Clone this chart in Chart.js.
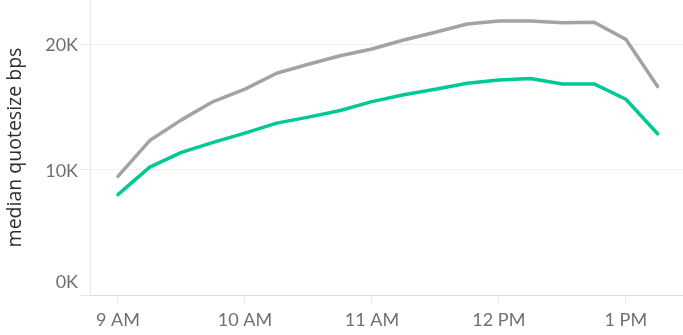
<!DOCTYPE html>
<html>
<head>
<meta charset="utf-8">
<script src="https://cdn.jsdelivr.net/npm/chart.js@4/dist/chart.umd.min.js"></script>
<style>
  html, body { margin: 0; padding: 0; background: #fff; }
  #wrap { width: 683px; height: 335px; position: relative; }
</style>
</head>
<body>
<div id="wrap"><canvas id="c"></canvas></div>
<script>
// Time in decimal hours (9 = 9 AM, 13.25 = 1:15 PM)
const times = [9, 9.25, 9.5, 9.75, 10, 10.25, 10.5, 10.75, 11, 11.25, 11.5, 11.75, 12, 12.25, 12.5, 12.75, 13, 13.25];
const grayValues = [9470, 12330, 13980, 15440, 16430, 17700, 18420, 19100, 19640, 20360, 20970, 21630, 21870, 21870, 21740, 21770, 20410, 16640];
const greenValues = [8010, 10210, 11380, 12180, 12920, 13720, 14200, 14730, 15440, 15980, 16430, 16900, 17170, 17280, 16850, 16850, 15630, 12870];
const xTickHours = [9, 10, 11, 12, 13];
const xTickLabels = ['9 AM', '10 AM', '11 AM', '12 PM', '1 PM'];
const yTickValues = [0, 10000, 20000];
const yTickLabels = ['0K', '10K', '20K'];
const yTitle = 'median quotesize bps';

const FONT = 'Lato, "Open Sans", sans-serif';
const TITLE_FONT = '"Open Sans", Lato, sans-serif';

const yLabelPlugin = {
  id: 'yLabels',
  afterDraw(chart) {
    const s = chart.scales.y;
    const ctx = chart.ctx;
    ctx.save();
    ctx.font = '18px ' + FONT;
    ctx.fillStyle = '#707070';
    ctx.textAlign = 'right';
    ctx.textBaseline = 'middle';
    yTickValues.forEach((v, i) => {
      let py = s.getPixelForValue(v);
      py = Math.min(py, chart.chartArea.bottom - 14);
      ctx.fillText(yTickLabels[i], s.right - 12, py + 1);
    });
    ctx.restore();
  }
};

new Chart(document.getElementById('c'), {
  type: 'line',
  data: {
    datasets: [
      {
        data: times.map((t, i) => ({ x: t, y: grayValues[i] })),
        borderColor: '#a3a3a3',
        borderWidth: 3.5,
        pointRadius: 0,
        tension: 0,
        borderJoinStyle: 'round',
        borderCapStyle: 'round'
      },
      {
        data: times.map((t, i) => ({ x: t, y: greenValues[i] })),
        borderColor: '#00c896',
        borderWidth: 3.5,
        pointRadius: 0,
        tension: 0,
        borderJoinStyle: 'round',
        borderCapStyle: 'round'
      }
    ]
  },
  options: {
    responsive: true,
    maintainAspectRatio: false,
    animation: false,
    layout: { padding: { top: 0, right: 0, bottom: 0, left: 0 } },
    plugins: { legend: { display: false }, tooltip: { enabled: false } },
    scales: {
      x: {
        type: 'linear',
        min: 8.78,
        max: 13.45,
        afterBuildTicks(scale) { scale.ticks = xTickHours.map(v => ({ value: v })); },
        afterFit(scale) { scale.height = 40; },
        ticks: {
          autoSkip: false,
          maxRotation: 0,
          padding: 6,
          color: '#707070',
          font: { family: FONT, size: 18 },
          callback(v) { const i = xTickHours.indexOf(v); return i >= 0 ? xTickLabels[i] : ''; }
        },
        grid: { display: true, drawOnChartArea: false, drawTicks: true, tickLength: 8, tickColor: '#e6e6e6', color: '#e6e6e6' },
        border: { display: true, color: '#dcdcdc', width: 1, dash: [3, 1] }
      },
      y: {
        min: 0,
        max: 23550,
        afterBuildTicks(scale) { scale.ticks = yTickValues.map(v => ({ value: v })); },
        afterFit(scale) { scale.width = 90; },
        ticks: { display: false },
        title: {
          display: true,
          text: yTitle,
          color: '#2e2e2e',
          font: { family: TITLE_FONT, size: 19.5 },
          padding: { top: 4, bottom: 0 }
        },
        grid: { color: '#f0f0f0', lineWidth: 1, drawTicks: true, tickLength: 9, tickColor: '#e6e6e6' },
        border: { display: true, color: '#e6e6e6', width: 1 }
      }
    }
  },
  plugins: [yLabelPlugin]
});
</script>
</body>
</html>
